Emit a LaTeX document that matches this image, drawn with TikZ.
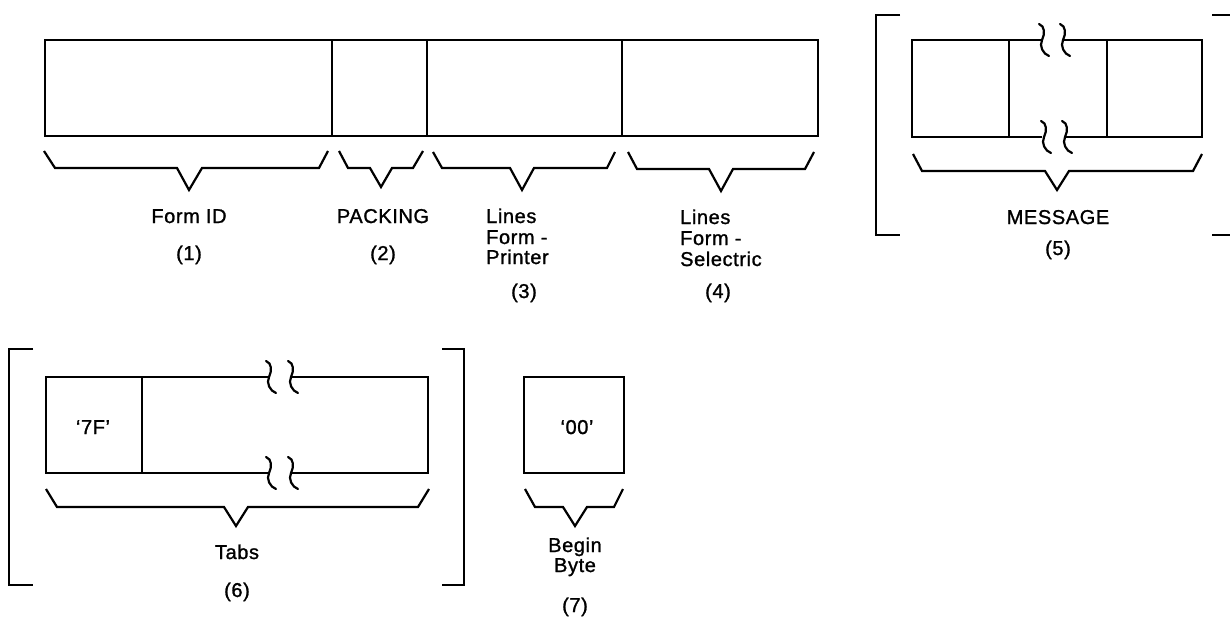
\documentclass[tikz,border=0pt]{standalone}
\usepackage{fontspec}
\setmainfont{Liberation Sans}[LetterSpace=3,FakeBold=1.2]
\begin{document}
\begin{tikzpicture}[x=1pt,y=-1pt,
  boxline/.style={line width=2.4pt},
  divline/.style={line width=1.6pt},
  bracel/.style={line width=2.2pt,line join=miter},
  brackl/.style={line width=2.4pt},
  lbl/.style={font=\fontsize{20}{21}\selectfont,inner sep=0pt,anchor=base},
  lbll/.style={font=\fontsize{20}{21}\selectfont,inner sep=0pt,anchor=base west},
  brk/.pic={\draw[line width=2.2pt,line cap=round] (-4,-16) .. controls (2,-14) and (2,-6) .. (-1,0) .. controls (-4,6) and (0,14) .. (6,16);}
]
\useasboundingbox (0,0) rectangle (1230,623);
\fill[white] (0,0) rectangle (1230,623);

% ---------- top record ----------
\draw[boxline] (45,40) rectangle (818,136);
\draw[divline] (332,40) -- (332,136);
\draw[boxline] (427,40) -- (427,136);
\draw[divline] (622,40) -- (622,136);

% braces top row
\draw[bracel] (44,151) -- (55,168) -- (177,168) -- (189,190) -- (202,168) -- (319,168) -- (328,151);
\draw[bracel] (339,151) -- (348,168) -- (370,168) -- (381,187) -- (392,168) -- (413,168) -- (423,151);
\draw[bracel] (433,152) -- (442,168) -- (510,168) -- (522,190) -- (534,168) -- (607,168) -- (615,152);
\draw[bracel] (628,152) -- (637,169) -- (709,169) -- (721,191) -- (733,169) -- (805,169) -- (814,152);

\node[lbl] (formid) at (189,223) {Form ID};
\node[lbl] (n1) at (189,260) {(1)};
\node[lbl] (packing) at (383,223) {PACKING};
\node[lbl] (n2) at (383,260) {(2)};
\node[lbll] (lp1) at (486,223) {Lines};
\node[lbll] (lp2) at (486,244) {Form -};
\node[lbll] (lp3) at (486,264) {Printer};
\node[lbl] (n3) at (524,298) {(3)};
\node[lbll] (ls1) at (680,224) {Lines};
\node[lbll] (ls2) at (680,245) {Form -};
\node[lbll] (ls3) at (680,266) {Selectric};
\node[lbl] (n4) at (718,298) {(4)};

% ---------- MESSAGE ----------
\draw[brackl] (900,15) -- (876,15) -- (876,235) -- (900,235);
\draw[brackl] (1212,15) -- (1230,15);
\draw[brackl] (1212,235) -- (1230,235);
\draw[boxline] (1042,40) -- (912,40) -- (912,137) -- (1042,137);
\draw[boxline] (1064,40) -- (1202,40) -- (1202,137) -- (1064,137);
\draw[divline] (1009,40) -- (1009,137);
\draw[divline] (1107,40) -- (1107,137);
\pic at (1043,40) {brk};
\pic at (1064,40) {brk};
\pic at (1045,137) {brk};
\pic at (1066,137) {brk};
\draw[bracel] (913,154) -- (922,171) -- (1045,171) -- (1057,190) -- (1069,171) -- (1193,171) -- (1202,154);
\node[lbl] (message) at (1058,224) {MESSAGE};
\node[lbl] (n5) at (1058,255) {(5)};

% ---------- Tabs ----------
\draw[brackl] (33,349) -- (9,349) -- (9,585) -- (33,585);
\draw[brackl] (442,349) -- (464,349) -- (464,585) -- (442,585);
\draw[boxline] (269,377) -- (46,377) -- (46,473) -- (269,473);
\draw[boxline] (291,377) -- (428,377) -- (428,473) -- (291,473);
\draw[divline] (142,377) -- (142,473);
\pic at (270,377) {brk};
\pic at (292,377) {brk};
\pic at (270,473) {brk};
\pic at (292,473) {brk};
\draw[bracel] (46,489) -- (57,507) -- (224,507) -- (236,526) -- (248,507) -- (418,507) -- (429,489);
\node[lbl] (q7f) at (93,434) {‘7F’};
\node[lbl] (tabs) at (237,559) {Tabs};
\node[lbl] (n6) at (237,597) {(6)};

% ---------- Begin Byte ----------
\draw[boxline] (524,377) rectangle (624,473);
\node[lbl] (q00) at (577,434) {‘00’};
\draw[bracel] (525,489) -- (535,507) -- (563,507) -- (575,526) -- (587,507) -- (614,507) -- (623,489);
\node[lbl] (begin) at (575,552) {Begin};
\node[lbl] (byte) at (575,572) {Byte};
\node[lbl] (n7) at (575,612) {(7)};
\end{tikzpicture}
\end{document}
